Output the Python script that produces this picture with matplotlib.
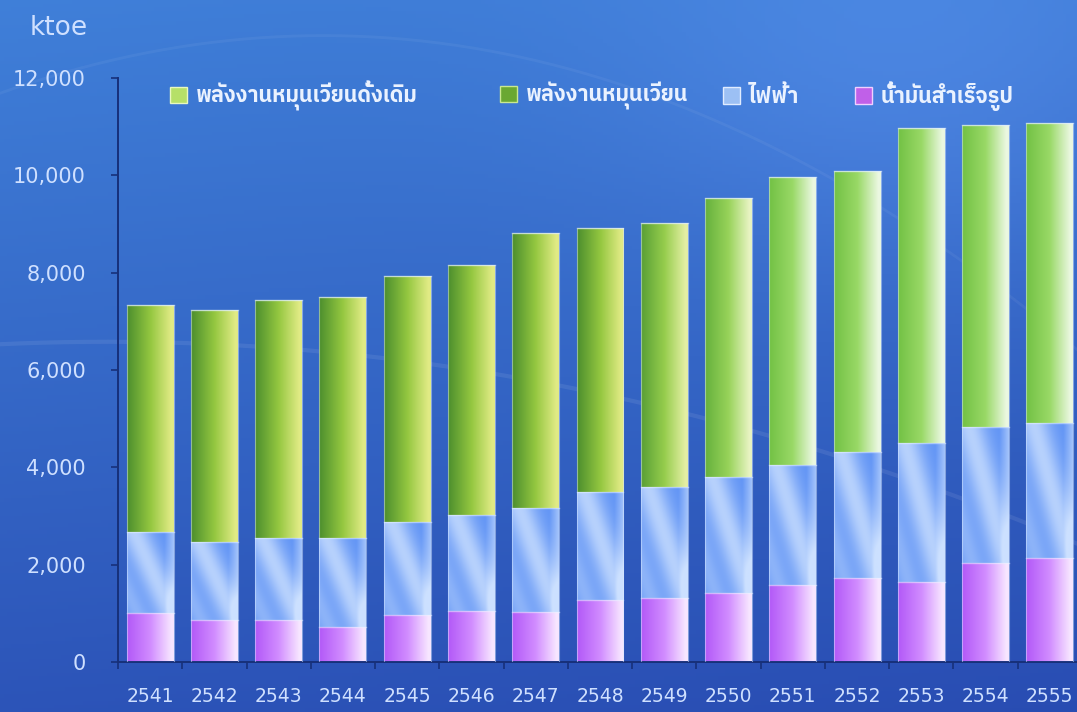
import matplotlib
matplotlib.use("Agg")
import matplotlib.pyplot as plt
from matplotlib import font_manager as fm
from matplotlib.patches import Patch
import numpy as np

# values in ktoe
years = ['2541', '2542', '2543', '2544', '2545', '2546', '2547', '2548',
         '2549', '2550', '2551', '2552', '2553', '2554', '2555']
oil = [1007, 863, 863, 719, 966, 1048, 1027, 1274, 1315, 1418, 1582, 1726, 1644, 2034, 2137]
electricity = [1664, 1603, 1685, 1829, 1911, 1973, 2137, 2219, 2281, 2383, 2466, 2589, 2856, 2795, 2774]
trad_renewable = [4665, 4767, 4890, 4952, 5055, 5137, 5651, 5425, 5425, 5733, 5918, 5774, 6473, 6205, 6164]

legend_labels = ['พลังงานหมุนเวียนดั้งเดิม', 'พลังงานหมุนเวียน', 'ไฟฟ้า', 'น้ำมันสำเร็จรูป']
yticks = [0, 2000, 4000, 6000, 8000, 10000, 12000]


# find a font that has Thai glyphs
def find_thai_font():
    try:
        from fontTools.ttLib import TTFont
    except Exception:
        return None
    files = fm.findSystemFonts()
    files = sorted(files, key=lambda f: ('thai' not in f.lower(), f))
    for f in files:
        try:
            cmap = TTFont(f, fontNumber=0, lazy=True).getBestCmap()
            if cmap and 0x0E1E in cmap and 0x0E32 in cmap:
                fm.fontManager.addfont(f)
                return fm.FontProperties(fname=f).get_name()
        except Exception:
            pass
    return None


thai = find_thai_font()
thai_family = [thai, 'DejaVu Sans'] if thai else ['DejaVu Sans']

txt_col = '#cfe0ff'
axis_col = '#17307a'

fig = plt.figure(figsize=(10.77, 7.12), dpi=100)

# background gradient
bg = fig.add_axes([0, 0, 1, 1], zorder=0)
yy, xx = np.mgrid[0:1:200j, 0:1:300j]
top = np.array([0.25, 0.50, 0.85])
bot = np.array([0.16, 0.30, 0.70])
t = (yy * 0.85 + xx * 0.15)[..., None]
img = bot * t + top * (1 - t)
img = img + (0.06 * np.exp(-((xx - 0.85) ** 2 + (yy - 0.1) ** 2) / 0.08))[..., None]
bg.imshow(np.clip(img, 0, 1), extent=[0, 1, 0, 1], aspect='auto', origin='upper')
s = np.linspace(0, 1, 200)
bg.plot(s, 0.52 - 0.35 * (s - 0.1) ** 2, color='white', alpha=0.08, lw=3)
bg.plot(s, 0.95 - 0.9 * (s - 0.3) ** 2, color='white', alpha=0.05, lw=2)
bg.set_xlim(0, 1)
bg.set_ylim(0, 1)
bg.axis('off')

ax = fig.add_axes([118 / 1077, 50 / 712, 964 / 1077, 584 / 712], zorder=1)
ax.patch.set_alpha(0)

x = np.arange(len(years))
width = 0.73


def mix(c1, c2, f):
    return np.array(c1) * (1 - f[..., None]) + np.array(c2) * f[..., None]


def green_img(i):
    xf = np.linspace(0, 1, 60)[None, :].repeat(4, 0)
    k = np.clip((i - 7) / 3, 0, 1)
    left = np.array([0.30, 0.56, 0.18]) * (1 - k) + np.array([0.45, 0.76, 0.27]) * k
    mid = np.array([0.58, 0.78, 0.25]) * (1 - k) + np.array([0.60, 0.85, 0.40]) * k
    right = np.array([0.88, 0.92, 0.52]) * (1 - k) + np.array([0.92, 0.97, 0.88]) * k
    a = mix(left, mid, np.clip(xf / 0.5, 0, 1))
    b = mix(mid, right, np.clip((xf - 0.5) / 0.45, 0, 1))
    return np.where((xf < 0.5)[..., None], a, b)


def blue_img():
    yf, xf = np.mgrid[1:0:80j, 0:1:60j]
    u = xf + 0.8 * yf
    light = 0.8 * np.exp(-((u - 0.95) / 0.35) ** 2) + 0.4 * np.exp(-((u - 0.2) / 0.25) ** 2)
    light = light + 0.6 * np.clip((xf - 0.8) / 0.2, 0, 1)
    light = np.clip(light, 0, 1)
    return mix([0.38, 0.58, 0.96], [0.80, 0.88, 1.0], light)


def purple_img():
    xf = np.linspace(0, 1, 60)[None, :].repeat(4, 0)
    a = mix([0.70, 0.35, 0.97], [0.82, 0.55, 1.0], np.clip(xf / 0.5, 0, 1))
    b = mix([0.82, 0.55, 1.0], [0.97, 0.90, 1.0], np.clip((xf - 0.5) / 0.45, 0, 1))
    return np.where((xf < 0.5)[..., None], a, b)


bottoms = np.zeros(len(years))
for vals, kind in [(oil, 'p'), (electricity, 'b'), (trad_renewable, 'g')]:
    bars = ax.bar(x, vals, width, bottom=bottoms, color='none', edgecolor='none', zorder=2)
    for i, bar in enumerate(bars):
        x0, y0 = bar.get_x(), bar.get_y()
        x1, y1 = x0 + bar.get_width(), y0 + bar.get_height()
        if kind == 'p':
            arr = purple_img()
        elif kind == 'b':
            arr = blue_img()
        else:
            arr = green_img(i)
        im = ax.imshow(arr, extent=[x0, x1, y0, y1], aspect='auto', origin='upper',
                       interpolation='bilinear', zorder=2)
        im.set_clip_path(bar)
        ax.plot([x0, x1], [y1, y1], color='#e8f4ff', alpha=0.55, lw=1, zorder=3)
    bottoms = bottoms + np.array(vals)

# thin light outline round each whole bar
ax.bar(x, bottoms, width, color='none', edgecolor='#d8e8ff', linewidth=0.8, alpha=0.5, zorder=3)

ax.set_xlim(-0.5, len(years) - 0.5)
ax.set_ylim(0, 12000)

ax.set_yticks(yticks)
ax.set_yticklabels([f'{v:,}' for v in yticks])
ax.set_xticks(x)
ax.set_xticklabels(years)
ax.set_xticks(np.arange(-0.5, len(years), 1), minor=True)
ax.tick_params(axis='x', which='major', length=0, pad=18, labelsize=13.5, labelcolor=txt_col)
ax.tick_params(axis='x', which='minor', length=5, width=1.2, color=axis_col, direction='out')
ax.tick_params(axis='y', length=5, width=1.2, color=axis_col, pad=18, labelsize=15,
               labelcolor=txt_col)

for side in ['top', 'right']:
    ax.spines[side].set_visible(False)
for side in ['left', 'bottom']:
    ax.spines[side].set_color(axis_col)
    ax.spines[side].set_linewidth(1.4)

fig.text(30 / 1077, 1 - 28 / 712, 'ktoe', color=txt_col, fontsize=19, va='center', ha='left')

handles = [Patch(facecolor='#b6e068', edgecolor='#e8f8c0'),
           Patch(facecolor='#6aa832', edgecolor='#c8e890'),
           Patch(facecolor='#9cc0f4', edgecolor='#e0ecff'),
           Patch(facecolor='#c060e8', edgecolor='#f0d0ff')]
leg_x = [170, 500, 723, 855]
for h, lab, lx in zip(handles, legend_labels, leg_x):
    leg = fig.legend([h], [lab], loc='center left', frameon=False,
                     bbox_to_anchor=(lx / 1077, 1 - 96 / 712), handlelength=0.8,
                     handleheight=0.8, handletextpad=0.4, borderaxespad=0, borderpad=0,
                     prop={'family': thai_family, 'size': 15.5, 'weight': 'bold'})
    for tx in leg.get_texts():
        tx.set_color('#eaf2ff')

fig.savefig('out.png', dpi=100)
